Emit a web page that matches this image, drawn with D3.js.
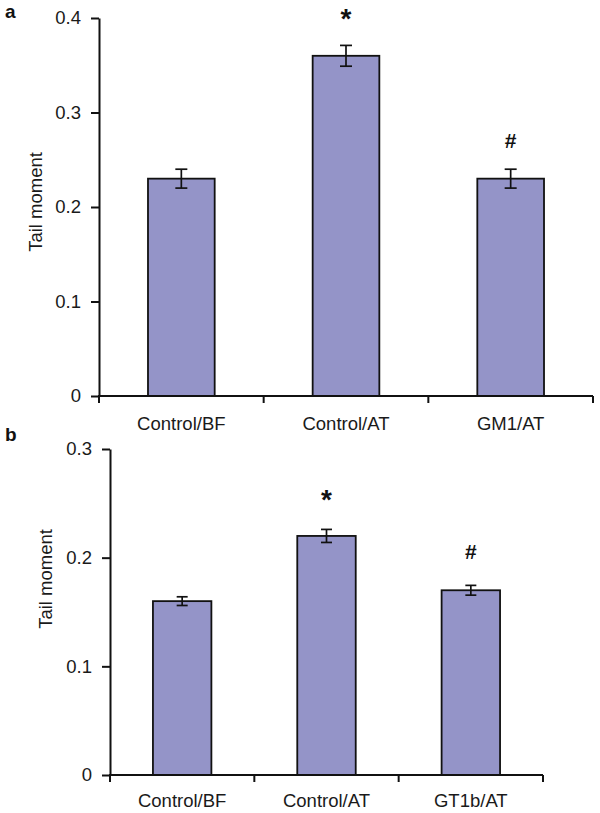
<!DOCTYPE html>
<html><head><meta charset="utf-8">
<script src="https://cdn.jsdelivr.net/npm/d3@7"></script>
<style>body{margin:0;background:#fff}svg{display:block;font-family:"Liberation Sans",Arial,sans-serif}</style>
</head><body>
<svg id="c" width="600" height="813"></svg>
<script>
// Panel a
const categoriesA = ["Control/BF", "Control/AT", "GM1/AT"];
const valuesA = [0.23, 0.36, 0.23];
const errorsA = [0.01, 0.011, 0.01];
const marksA = ["", "*", "#"];
const ticksA = [0, 0.1, 0.2, 0.3, 0.4];
const tickLabelsA = ["0", "0.1", "0.2", "0.3", "0.4"];
// Panel b
const categoriesB = ["Control/BF", "Control/AT", "GT1b/AT"];
const valuesB = [0.16, 0.22, 0.17];
const errorsB = [0.004, 0.006, 0.0045];
const marksB = ["", "*", "#"];
const ticksB = [0, 0.1, 0.2, 0.3];
const tickLabelsB = ["0", "0.1", "0.2", "0.3"];
const yLabel = "Tail moment";

const svg = d3.select("#c");
const barColor = "#9494c8";
const FS = 18.5;

function panel(cfg) {
  const g = svg.append("g");
  const x = d3.scaleBand().domain(cfg.cats).range([cfg.x0, cfg.x1]).padding(0);
  const y = d3.scaleLinear().domain([0, cfg.ymax]).range([cfg.y0, cfg.y1]);
  const bw = x.bandwidth() * 0.405;

  g.selectAll("rect.bar").data(cfg.vals).join("rect")
    .attr("x", (d, i) => x(cfg.cats[i]) + x.bandwidth() / 2 - bw / 2)
    .attr("y", d => y(d))
    .attr("width", bw)
    .attr("height", d => y(0) - y(d))
    .attr("fill", barColor)
    .attr("stroke", "#111").attr("stroke-width", 1.8);

  cfg.vals.forEach((v, i) => {
    const cx = x(cfg.cats[i]) + x.bandwidth() / 2;
    const e = cfg.errs[i];
    const cap = cfg.cap;
    g.append("line").attr("x1", cx).attr("x2", cx).attr("y1", y(v + e)).attr("y2", y(v - e))
      .attr("stroke", "#111").attr("stroke-width", 1.7);
    [v + e, v - e].forEach(t => g.append("line")
      .attr("x1", cx - cap / 2).attr("x2", cx + cap / 2).attr("y1", y(t)).attr("y2", y(t))
      .attr("stroke", "#111").attr("stroke-width", 1.7));
    const m = cfg.marks[i];
    if (m) {
      const top = y(v + e);
      const centre = top - cfg.markOff[i];
      g.append("text").attr("x", cx)
        .attr("y", m === "*" ? centre + 16 : centre + 7)
        .attr("text-anchor", "middle")
        .attr("font-size", m === "*" ? 28 : 21)
        .attr("font-weight", "bold")
        .attr("fill", "#111").text(m);
    }
  });

  const yAxis = d3.axisLeft(y).tickValues(cfg.ticks).tickFormat((d, i) => cfg.tickLabels[i])
    .tickSize(8).tickSizeOuter(0).tickPadding(10);
  const ya = g.append("g").attr("transform", `translate(${cfg.x0},0)`).call(yAxis);
  ya.select(".domain").attr("stroke", "#111").attr("stroke-width", 2);
  ya.selectAll(".tick line").attr("stroke", "#111").attr("stroke-width", 2);
  ya.selectAll(".tick text").attr("font-size", FS).attr("fill", "#1a1a1a")
    .attr("font-family", "Liberation Sans, Arial, sans-serif");

  const xa = g.append("g");
  xa.append("line").attr("x1", cfg.x0 - 1).attr("x2", cfg.x1).attr("y1", y(0)).attr("y2", y(0))
    .attr("stroke", "#111").attr("stroke-width", 2);
  const bounds = cfg.cats.map(c => x(c)).concat([cfg.x1]);
  xa.selectAll("line.t").data(bounds).join("line")
    .attr("x1", d => d).attr("x2", d => d).attr("y1", y(0)).attr("y2", y(0) + 7)
    .attr("stroke", "#111").attr("stroke-width", 2);
  xa.selectAll("text").data(cfg.cats).join("text")
    .attr("x", d => x(d) + x.bandwidth() / 2).attr("y", cfg.labelY)
    .attr("text-anchor", "middle").attr("font-size", FS).attr("fill", "#1a1a1a").text(d => d);

  g.append("text").attr("transform", `translate(${cfg.ylx},${cfg.yly}) rotate(-90)`)
    .attr("text-anchor", "middle").attr("font-size", FS).attr("fill", "#1a1a1a").text(yLabel);

  g.append("text").attr("x", 5).attr("y", cfg.letterY).attr("font-size", 19)
    .attr("font-weight", "bold").attr("fill", "#111").text(cfg.letter);
}

panel({cats: categoriesA, vals: valuesA, errs: errorsA, marks: marksA, ticks: ticksA, tickLabels: tickLabelsA,
  ymax: 0.4, x0: 99, x1: 593, y0: 396, y1: 18, cap: 12, markOff: [0, 33, 28],
  labelY: 430, ylx: 42, yly: 202, letter: "a", letterY: 18});
panel({cats: categoriesB, vals: valuesB, errs: errorsB, marks: marksB, ticks: ticksB, tickLabels: tickLabelsB,
  ymax: 0.3, x0: 110, x1: 543, y0: 775, y1: 449, cap: 11, markOff: [0, 36, 33],
  labelY: 807, ylx: 52, yly: 579, letter: "b", letterY: 441});
</script>
</body></html>
